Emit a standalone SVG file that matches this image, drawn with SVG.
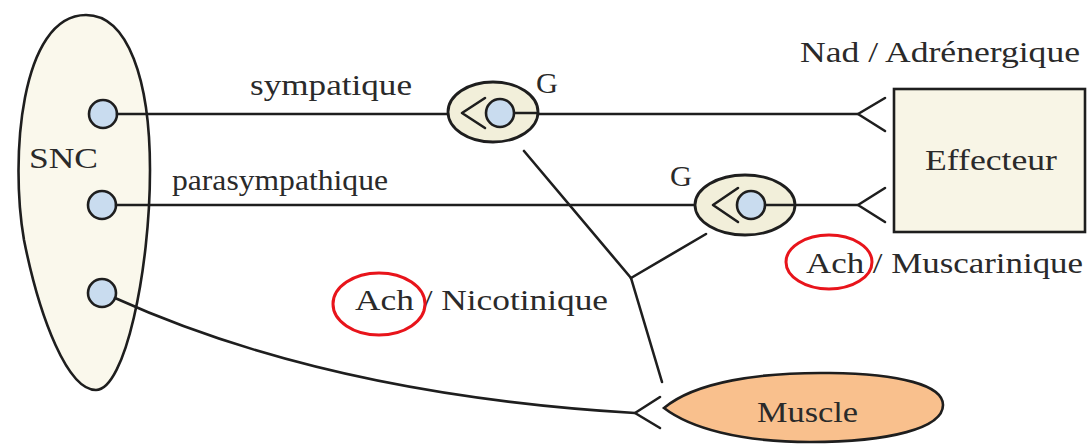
<svg xmlns="http://www.w3.org/2000/svg" width="1087" height="444" viewBox="0 0 1087 444">
<style>
.ln{fill:none;stroke:#1e1e1e;stroke-width:2.6;stroke-linecap:round;stroke-linejoin:round}
.nd{stroke:#1e1e1e;stroke-width:2.6}
.cell{fill:#c9dcef;stroke:#1e1e1e;stroke-width:2.6}
.gang{fill:#f2efda;stroke:#1e1e1e;stroke-width:2.8}
.t{font-family:"Liberation Serif","Times New Roman",serif;font-size:30px;fill:#2a2a2a}
.red{fill:none;stroke:#e8141b;stroke-width:3}
</style>
<rect width="1087" height="444" fill="#ffffff"/>
<g id="snc">
  <path class="nd" fill="#faf8ec" d="M86 15 C128 15 150 80 150 170 C150 270 125 390 96 390 C68 390 40 320 24 240 C10 160 20 15 86 15 Z"/>
  <text class="t" x="29" y="168" textLength="69" lengthAdjust="spacingAndGlyphs">SNC</text>
  <circle class="cell" cx="103" cy="114" r="14"/>
  <circle class="cell" cx="102" cy="205" r="14"/>
  <circle class="cell" cx="102" cy="293" r="14"/>
</g>
<g id="connectors">
  <line class="ln" x1="117" y1="114" x2="858" y2="114"/>
  <polyline class="ln" points="885,98 858,114 885,131"/>
  <line class="ln" x1="116" y1="205" x2="858" y2="205"/>
  <polyline class="ln" points="885,188 858,205 885,222"/>
  <line class="ln" x1="524" y1="151" x2="631" y2="278"/>
  <line class="ln" x1="631" y1="278" x2="706" y2="234"/>
  <line class="ln" x1="631" y1="278" x2="662" y2="382"/>
  <path class="ln" d="M115 298 Q330 395 635 413"/>
  <polyline class="ln" points="660,397 635,413 660,428"/>
</g>
<g id="ganglion1">
  <ellipse class="gang" cx="493" cy="112" rx="45" ry="30"/>
  <polyline class="ln" points="485,98 462,113 485,128"/>
  <line class="ln" x1="500" y1="113" x2="538" y2="113"/>
  <circle class="cell" cx="500" cy="113" r="14"/>
  <text class="t" x="536" y="93" textLength="22" lengthAdjust="spacingAndGlyphs">G</text>
</g>
<g id="ganglion2">
  <ellipse class="gang" cx="745" cy="205" rx="50" ry="30"/>
  <polyline class="ln" points="738,188 713,205 738,222"/>
  <line class="ln" x1="751" y1="205" x2="795" y2="205"/>
  <circle class="cell" cx="751" cy="205" r="14"/>
  <text class="t" x="670" y="186" textLength="22" lengthAdjust="spacingAndGlyphs">G</text>
</g>
<g id="effecteur">
  <rect class="nd" fill="#f8f5e6" x="894" y="89" width="191" height="143"/>
  <text class="t" x="925" y="170" textLength="132" lengthAdjust="spacingAndGlyphs">Effecteur</text>
</g>
<g id="muscle">
  <path class="nd" fill="#f9c08d" d="M664 408 C695 382 760 372 830 373 C900 374 943 385 943 405 C943 428 890 442 810 442 C740 442 690 428 664 408 Z"/>
  <text class="t" x="757" y="422" textLength="101" lengthAdjust="spacingAndGlyphs">Muscle</text>
</g>
<g id="labels">
  <text class="t" x="250" y="95" textLength="162" lengthAdjust="spacingAndGlyphs">sympatique</text>
  <text class="t" x="172" y="190" textLength="216" lengthAdjust="spacingAndGlyphs">parasympathique</text>
  <text class="t" x="800" y="62" textLength="280" lengthAdjust="spacingAndGlyphs">Nad / Adrénergique</text>
  <text class="t" x="806" y="273" textLength="277" lengthAdjust="spacingAndGlyphs">Ach / Muscarinique</text>
  <text class="t" x="355" y="310" textLength="253" lengthAdjust="spacingAndGlyphs">Ach / Nicotinique</text>
  <ellipse class="red" cx="829" cy="262" rx="43" ry="27"/>
  <ellipse class="red" cx="379" cy="304" rx="46" ry="31"/>
</g>
</svg>
